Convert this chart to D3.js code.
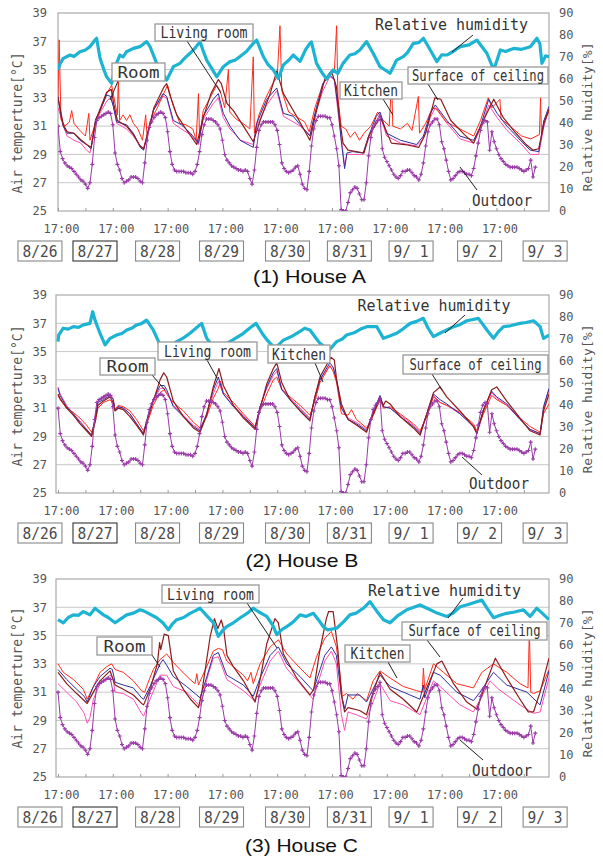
<!DOCTYPE html>
<html>
<head>
<meta charset="utf-8">
<script src="https://cdn.jsdelivr.net/npm/d3@7"></script>
<style>
  body { margin: 0; background: #fff; }
  svg { display: block; }
</style>
</head>
<body>
<script>
// ---- data: hours counted from 8/26 17:00, values in degC or % ----
const dayTicks = [0, 24, 48, 72, 96, 120, 144, 168, 192];
const dateLabels = ['8/26', '8/27', '8/28', '8/29', '8/30', '8/31', '9/ 1', '9/ 2', '9/ 3'];
const dateLabelHour = [-7.9, 16.2, 43.6, 71.6, 100.5, 127.6, 154.6, 184.6, 213.3];
const tempTicks = [25, 27, 29, 31, 33, 35, 37, 39];
const rhTicks = [0, 10, 20, 30, 40, 50, 60, 70, 80, 90];

// outdoor air temperature, hourly (same in all three houses)
const outdoorTemp = [
  31.0, 29.2, 28.7, 28.4, 28.2, 28.1, 28.0, 27.8, 27.6, 27.4, 27.2, 27.1, 26.9, 26.6, 27.0, 28.3, 30.2, 31.4, 31.6, 31.7, 31.8, 31.9, 32.0, 31.9,
  31.1, 29.1, 28.3, 27.9, 27.3, 27.0, 27.1, 27.2, 27.4, 27.4, 27.4, 27.3, 27.1, 27.0, 28.4, 30.0, 30.9, 31.3, 31.6, 31.8, 31.9, 32.0, 31.9, 31.6,
  30.6, 29.2, 28.3, 27.9, 27.8, 27.8, 27.8, 27.8, 27.7, 27.7, 27.7, 27.6, 27.8, 28.3, 29.2, 30.4, 31.1, 31.5, 31.5, 31.5, 31.4, 31.3, 31.1, 30.8,
  30.0, 29.0, 28.6, 28.4, 28.2, 28.1, 28.0, 27.9, 27.9, 27.8, 27.9, 27.8, 27.3, 26.9, 27.9, 29.5, 30.7, 31.1, 31.3, 31.3, 31.3, 31.3, 31.3, 31.1,
  30.7, 29.7, 28.4, 28.0, 27.8, 27.7, 27.8, 27.9, 28.1, 28.2, 27.6, 26.9, 26.6, 26.5, 27.8, 29.6, 30.8, 31.4, 31.7, 31.7, 31.7, 31.7, 31.6, 31.6,
  31.1, 30.3, 29.4, 28.2, 25.1, 25.0, 25.0, 25.6, 26.3, 26.5, 26.7, 26.6, 26.2, 25.8, 25.8, 27.0, 28.9, 30.2, 30.9, 31.2, 31.4, 31.7, 29.4, 28.8,
  28.5, 28.2, 27.9, 27.6, 27.4, 27.3, 27.5, 27.8, 27.8, 27.9, 27.9, 27.7, 27.5, 27.4, 27.2, 27.6, 28.4, 29.6, 30.6, 31.1, 31.3, 31.5, 31.5, 31.1,
  29.9, 29.4, 28.6, 27.8, 27.2, 27.3, 27.5, 27.7, 27.8, 27.8, 27.7, 27.6, 27.6, 27.5, 28.0, 28.9, 29.8, 30.7, 31.2, 31.4, 31.3, 29.3, 30.6, 29.9,
  29.4, 29.0, 28.7, 28.5, 28.3, 28.2, 28.1, 28.1, 28.1, 28.1, 28.0, 27.9, 27.8, 27.9, 28.0, 28.6, 27.4, 28.1
];

// House A  [hour, value]
const roomA = [[0,33.1],[1,32.0],[2.3,31.0],[4,30.5],[7,30.5],[9.6,30.0],[12.5,29.7],[14.5,29.4],[15.5,30.5],[16.5,31.5],[18.4,32.1],[21.3,33.2],[23,33.1],[24.2,32.4],[25.7,31.3],[30,31.1],[33,30.5],[36,29.5],[37.5,29.3],[39.6,30.7],[41.7,32.1],[46,33.3],[47.6,33.1],[50.5,31.4],[54,31.1],[58,30.5],[61.5,29.8],[63.6,31.7],[68,32.9],[70.2,33.3],[72.4,31.9],[75.3,31.0],[79.7,30.0],[85.5,29.5],[87,31.2],[91.4,32.9],[95.8,33.7],[98.7,31.9],[103,31.7],[106,31.1],[110.3,30.3],[112.5,31.9],[116,34.0],[119,34.6],[121,34.3],[122.6,32.4],[124,30.0],[125.5,28.0],[126.5,29.1],[129,29.2],[133.6,29.1],[136.5,30.5],[139.4,31.7],[141,32.0],[143.9,30.5],[150,30.0],[157,29.7],[160,30.3],[163,31.9],[165.2,32.5],[170.3,31.4],[176,30.3],[182,30.0],[185,31.0],[188.6,32.9],[192.3,31.9],[196.6,31.0],[202.5,30.0],[206.8,29.3],[210.5,29.2],[212.8,31.4],[215,32.4]];
const kitchenA = [[0,33.0],[0.5,37.1],[1.3,31.5],[3,31.0],[5,31.3],[6,32.1],[7,31.2],[9,30.8],[12,30.3],[13.5,31.9],[14,30.0],[15,30.5],[17,31.5],[19,32.3],[21.3,33.3],[23.5,33.9],[25,32.6],[26,31.8],[26.4,34.3],[27,31.4],[28.5,31.8],[30,31.4],[31.5,31.8],[33,31.2],[35,30.8],[37,30.0],[38.4,31.8],[39,30.3],[40.3,31.3],[43.2,32.2],[46,33.2],[48,33.9],[50.5,32.4],[53.4,31.2],[56,31.1],[59,30.8],[60.5,30.0],[61.5,33.3],[62,30.2],[63.6,32.1],[66.6,33.0],[69.5,33.9],[71,33.5],[73,32.3],[74.6,35.0],[75.2,32.0],[78,31.5],[81,31.2],[84,30.8],[85.5,35.9],[86,30.5],[88,31.8],[91,33.0],[94,34.0],[96,34.5],[97.2,38.1],[98,33.5],[101,32.0],[104,31.7],[108,31.3],[110,30.6],[112.5,32.3],[116,34.0],[119,34.8],[121,34.8],[122,38.1],[122.6,33.0],[124,31.0],[126,30.8],[128,30.2],[130,30.6],[132,30.0],[134,30.5],[137,31.0],[140,32.0],[142,31.5],[145,31.0],[146.1,34.1],[146.6,31.0],[150,30.8],[153,31.2],[155,30.7],[157.8,33.1],[158.3,30.5],[161,31.2],[164,32.3],[166,32.2],[170,31.3],[176,30.8],[182,30.3],[185,31.4],[188.4,33.0],[190,32.3],[193.5,32.9],[194,31.5],[198,31.0],[203,30.3],[207,30.1],[210.8,30.4],[211.3,33.0],[211.7,30.4],[212.8,31.4],[215,32.0]];
const ceilingA = [[0,32.3],[1,31.8],[2.3,31.0],[4,30.3],[7,30.0],[10,29.8],[12.5,29.3],[14,29.1],[15.5,30.3],[17,31.5],[19,32.1],[21.5,32.8],[23,33.0],[24.2,32.5],[25.7,31.2],[30,30.8],[33,30.3],[36,29.6],[37.5,29.4],[39.6,30.8],[42,32.2],[46,33.1],[47.6,33.0],[50.5,31.2],[54,30.8],[58,30.4],[61.5,29.7],[63.6,31.5],[68,32.6],[70.2,33.0],[72.4,31.6],[75.3,30.8],[80,30.0],[85.5,29.7],[87,31.0],[91.4,32.5],[95.8,33.5],[98.7,31.7],[103,31.3],[106,31.0],[110.3,30.4],[112.5,31.8],[116,33.5],[119,34.5],[121,34.3],[122.6,32.0],[124,30.2],[125.5,28.2],[126.5,29.0],[129,29.0],[133.6,29.0],[136.5,30.3],[139.4,31.4],[141,31.8],[143.9,30.3],[150,29.8],[157,29.6],[160,30.1],[163,31.6],[165.2,32.3],[170.3,31.2],[176,30.1],[182,29.8],[185,30.8],[188.6,32.5],[192.3,31.6],[196.6,30.7],[202.5,29.8],[206.8,29.0],[210.5,29.0],[212.8,31.0],[215,32.2]];
const livingA = [[0,33.0],[1,32.2],[2.3,31.1],[4,30.6],[7,30.5],[9.6,30.1],[12.5,29.7],[14.5,29.5],[16.5,31.4],[18.4,32.2],[21.3,33.4],[23.3,33.6],[24.5,32.5],[26,31.4],[30,31.0],[33,30.4],[36,29.6],[37.5,29.4],[40,30.9],[42,32.3],[46.5,33.8],[47.6,34.0],[49,33.2],[52,31.8],[56,30.8],[60.7,29.7],[63.6,31.6],[67,33.3],[70.2,34.3],[71.5,34.0],[74,32.6],[76.8,32.1],[81.2,31.0],[85.5,29.9],[88.5,31.4],[92.9,33.3],[95.8,34.9],[98.7,33.3],[104.5,31.7],[110.3,30.0],[113.2,32.1],[116.8,34.3],[119.7,34.9],[121.9,33.8],[123.4,31.4],[124.8,29.8],[127,29.3],[134,29.1],[136,30.3],[140.3,31.4],[141.5,31.5],[146,29.8],[152,29.7],[158,29.5],[161,30.5],[165,33.0],[167.6,32.9],[172,31.4],[178,30.4],[182,29.8],[185,31.0],[190.8,32.9],[195,31.6],[200,30.6],[205,29.7],[208,29.3],[210.5,29.4],[212.8,31.2],[215,32.2]];
const humidityA = [[0,64],[0.9,67],[2.3,69.4],[5.3,70.9],[7,70.2],[9.6,72.4],[12,73.2],[14,74.7],[16.2,77.7],[16.9,78.5],[18.4,69.4],[20,64.5],[21.3,61.0],[23.5,58.0],[25,65.6],[27.1,70.9],[28.5,70],[30,72.4],[33,73.9],[35.9,74.7],[38.8,77.0],[40.3,74.7],[43.2,67.1],[45.5,63],[47.6,59.5],[50.5,65.6],[53.4,67.1],[55.5,69.5],[57.8,71.7],[60,74],[62.2,77.0],[63.5,73],[65.1,68.6],[67.5,64.5],[69.5,61.0],[72.4,65.6],[75.3,67.9],[77.5,68.5],[79.7,70.2],[82.5,72.5],[85.5,76.2],[87,77.7],[89.9,70.2],[92,66.5],[94.3,64.1],[96.5,60.3],[98.7,66.4],[101,68.5],[103,70.9],[106,68],[108.5,73.5],[110.3,76.2],[111,76.8],[113.2,67.1],[115.5,63],[117.6,60.0],[120.5,64.1],[122.5,62.5],[124.8,67.1],[127.8,70.9],[130,71.5],[132.2,73.2],[135.1,77.0],[138,71.7],[141,65.6],[145.4,62.6],[148.3,68.6],[151.2,70.2],[153,72],[155.6,76.2],[158,76.5],[160,78.5],[163,73.2],[165.9,67.9],[168,71],[170.3,70.9],[173,72.5],[176.1,74.7],[180,75.5],[183.4,77.7],[187.8,71.7],[190.8,64.1],[193.7,73.2],[196,72.5],[199.5,73.9],[203,73.5],[206.8,74.7],[209.7,78.5],[211,76],[211.9,67.1],[213.5,70.5],[215,70.2]];

// House B
const roomB = [[0,32.4],[0.9,31.9],[3.8,31.1],[6.7,30.6],[9.6,30.0],[12.5,29.5],[14.7,29.1],[16.2,30.2],[17.5,31.4],[19.9,31.6],[22.8,31.9],[24.2,31.6],[25,30.8],[26.4,31.1],[28.6,31.0],[31.5,30.6],[34.4,29.9],[37.4,29.2],[39.6,30.6],[41.7,31.6],[44.7,32.6],[46.5,32.6],[47.6,32.3],[50.5,31.1],[54.9,30.4],[59.3,29.7],[62.2,29.4],[65.1,30.6],[68,32.3],[70.2,33.2],[72.4,32.0],[76.8,31.1],[81.2,30.4],[86.3,29.6],[88.5,31.1],[91.4,32.5],[94.3,33.5],[95.8,33.8],[98,32.3],[101.6,31.6],[106,30.9],[110.3,30.2],[112.5,31.8],[114.7,33.0],[119,34.2],[120.5,33.9],[122,33.0],[124.1,31.0],[127,30.2],[130.7,29.9],[135.1,29.4],[137.3,30.4],[141,31.9],[142.5,31.1],[145.4,31.0],[149.8,30.4],[155.6,29.7],[158.6,29.2],[161.5,30.6],[164.4,32.0],[167.3,31.6],[170.2,31.3],[176,30.6],[181.9,29.7],[183.4,29.2],[186.3,30.9],[189.9,32.2],[192.1,31.8],[196.5,31.3],[202.3,30.2],[206.7,29.5],[211.1,29.2],[212.6,31.1],[215,32.4]];
const livingB = [[0,32.0],[0.9,31.7],[3.8,31.0],[6.7,30.5],[9.6,29.9],[12.5,29.4],[14.7,29.0],[16.2,30.0],[17.5,31.2],[19.9,31.5],[22.8,31.8],[24.2,31.4],[25,30.8],[26.4,31.0],[28.6,30.9],[31.5,30.4],[34.4,29.8],[37.4,29.1],[39.6,30.4],[41.7,31.5],[44.7,33.0],[46.3,33.5],[47.6,33.2],[50.5,31.5],[54.9,30.4],[59.3,29.6],[62.2,29.3],[65.1,30.5],[68,32.5],[70.5,33.8],[72.4,32.6],[76.8,31.2],[81.2,30.3],[86.3,29.5],[88.5,31.0],[91.4,32.7],[94.3,33.8],[95.8,34.2],[98,32.8],[101.6,31.6],[106,30.8],[110.3,30.1],[112.5,31.8],[114.7,33.2],[119.5,34.6],[121,34.4],[122,33.0],[124.1,31.3],[127,30.2],[130.7,29.8],[135.1,29.3],[137.3,30.3],[141,31.7],[142.5,31.2],[143.5,31.5],[145.4,31.3],[149.8,30.4],[155.6,29.6],[158.6,29.1],[161.5,30.6],[164.4,32.1],[167.3,32.5],[170.2,31.8],[176,30.8],[181.9,29.7],[183.4,29.2],[186.3,30.8],[189.9,32.3],[192.1,32.5],[196.5,31.5],[202.3,30.3],[206.7,29.4],[211.1,29.1],[212.6,30.8],[215,32.0]];
const kitchenB = [[0,31.9],[0.9,31.6],[3.8,31.0],[6.7,30.7],[9.6,30.3],[12.5,29.8],[14.7,29.3],[16.2,30.0],[17.5,31.0],[19.9,31.4],[22.8,31.6],[24.2,31.3],[25,30.9],[26.4,31.2],[28.6,31.1],[31.5,30.8],[34.4,30.2],[37.4,29.4],[39.6,30.2],[41.7,31.2],[44.7,32.1],[46.5,32.3],[47.6,32.0],[50.5,31.4],[54.9,30.8],[59.3,30.0],[62.2,29.6],[65.1,30.4],[68,31.7],[70.2,32.4],[71.2,32.9],[72.4,32.1],[76.8,31.4],[81.2,30.6],[86.3,29.7],[88.5,30.8],[91.4,32.0],[94.3,33.0],[95.8,33.2],[98,32.3],[101.6,31.8],[106,31.2],[110.3,30.5],[112.5,31.5],[114.7,32.8],[119,34.0],[120.5,33.6],[122,32.8],[124.1,30.6],[127,30.5],[128.5,30.9],[130.7,30.2],[135.1,29.6],[137.3,30.2],[141,31.6],[142.5,31.0],[145.4,31.1],[149.8,30.6],[155.6,29.9],[158.6,29.4],[161.5,30.4],[164.4,31.8],[167.3,31.4],[170.2,31.2],[176,30.7],[181.9,29.9],[183.4,29.4],[186.3,30.6],[189.9,31.9],[192.1,31.6],[196.5,31.2],[202.3,30.3],[206.7,29.7],[211.1,29.3],[212.6,30.6],[215,31.3]];
const ceilingB = [[0,32.5],[0.9,32.0],[3.8,31.2],[6.7,30.6],[9.6,30.1],[12.5,29.5],[14.7,29.0],[16.2,30.3],[17.5,31.5],[19.9,31.7],[22.8,32.0],[24.2,31.7],[25,30.8],[26.4,31.1],[28.6,31.0],[31.5,30.6],[34.4,29.9],[37.4,29.2],[39.6,30.5],[41.7,31.5],[44.7,32.4],[46.5,32.4],[47.6,32.1],[50.5,31.2],[54.9,30.5],[59.3,29.8],[62.2,29.5],[65.1,30.6],[68,32.0],[70.2,32.9],[72.4,32.0],[76.8,31.2],[81.2,30.5],[86.3,29.7],[88.5,31.1],[91.4,32.4],[94.3,33.3],[95.8,33.6],[98,32.4],[101.6,31.7],[106,31.0],[110.3,30.3],[112.5,31.8],[114.7,33.0],[119,34.0],[120.5,33.8],[122,32.9],[124.1,31.0],[127,30.3],[130.7,30.0],[135.1,29.5],[137.3,30.4],[141,31.8],[142.5,31.1],[145.4,31.0],[149.8,30.5],[155.6,29.8],[158.6,29.3],[161.5,30.6],[164.4,31.9],[167.3,31.4],[170.2,31.2],[176,30.6],[181.9,29.8],[183.4,29.3],[186.3,30.9],[189.9,32.1],[192.1,31.7],[196.5,31.2],[202.3,30.2],[206.7,29.5],[211.1,29.2],[212.6,31.0],[215,32.3]];
const humidityB = [[0,68.8],[0.3,71.8],[2.3,74.9],[4.5,74.5],[6.7,75.6],[9,75.3],[11.1,76.4],[14,77.1],[15.2,82.4],[16.2,78.6],[18.4,72.6],[20.6,67.3],[22.8,70.3],[25.7,71.8],[28,72.5],[30.1,74.1],[32.5,75],[34.4,76.4],[36.5,77],[38.8,78.6],[41.7,74.1],[44.7,67.3],[47.6,65.8],[50,67.5],[52,68.8],[55,70.5],[57.8,72.6],[60.5,75],[62.9,77.1],[65.1,70.3],[68,66.5],[70.9,65.0],[73,67],[75.3,68.8],[78,70.5],[81.2,72.6],[84,75],[86.7,77.1],[89.9,71.8],[92,69],[94.3,66.5],[96,66.8],[98.7,69.5],[102,71],[106,73.5],[108,74.9],[110.3,74.1],[112.5,71],[114.7,68.0],[117.6,65.8],[119,65.2],[122,68.8],[124.5,70],[126.4,71.8],[130,73],[132.5,74.5],[135.2,75.6],[139.6,75.6],[142.5,70.3],[145.5,71.5],[148.3,72.6],[151,74.5],[154.2,77.1],[157,78],[160,79.4],[162,75],[164.4,71.1],[167,72.5],[170.2,74.1],[173,75.5],[176,76.5],[179,78.3],[184.1,79.4],[187.8,74.1],[190.7,70.3],[193,73.5],[195.1,75.6],[198,76],[202.3,77.1],[205,77.5],[208.2,78.3],[211.1,75.6],[212.6,70.3],[215,71.8]];

// House C
const kitchenC = [[0,33.0],[2.3,32.4],[6.7,31.9],[11.1,31.2],[12.8,30.5],[15.5,31.4],[18.4,32.4],[21.3,32.8],[23.5,33.0],[25,32.6],[28.6,32.4],[33,31.8],[36.6,31.1],[38,31.0],[38.8,31.4],[41.7,32.6],[44.7,33.3],[47.6,33.7],[50.5,33.1],[53.4,32.6],[57.8,31.9],[60,31.6],[60.8,32.3],[61.5,31.5],[65.1,32.8],[68,33.9],[70.2,34.1],[72,34.0],[73.9,33.2],[78.2,32.6],[81.2,32.2],[83,31.8],[84.5,32.4],[85.5,31.6],[88.5,33.0],[92.9,34.2],[96.5,34.7],[100.2,33.7],[106,32.7],[110.3,32.0],[113.2,33.5],[116.8,34.8],[119.7,35.3],[121.9,34.2],[123.4,32.4],[124.5,30.7],[126.3,30.9],[129.2,30.5],[131,30.9],[135.1,30.4],[138,31.8],[141,32.5],[145.4,32.0],[151.2,31.4],[157.1,31.1],[159.5,31.0],[160,32.7],[160.6,31.2],[164.4,33.0],[168.8,32.4],[174.6,31.6],[181.9,31.3],[185.6,32.4],[190.7,33.0],[196.5,32.4],[202.3,31.6],[205.8,31.3],[206.4,35.4],[207,31.0],[208.2,30.9],[211.1,31.1],[215,32.6]];
const roomC = [[0,32.6],[3.8,31.9],[8.2,31.2],[11.5,30.7],[12.8,30.3],[15.5,31.4],[18.4,32.1],[22.8,32.7],[23.8,32.6],[25,31.7],[28.6,31.5],[33,31.3],[36.6,30.6],[37.5,30.5],[40.3,31.4],[44.7,33.0],[46,33.3],[47.6,32.9],[50.5,32.1],[56.3,31.4],[62.2,30.6],[65,32.0],[68,33.6],[70.2,33.8],[73.9,32.2],[81.2,31.5],[85.5,30.7],[88.5,32.0],[92.9,33.6],[96.5,34.2],[100.2,33.0],[106,32.1],[111.7,31.1],[116.8,33.6],[119.7,34.2],[121.9,33.6],[124.1,30.8],[125.6,29.8],[127,30.8],[132.1,30.8],[135.1,30.3],[141,32.2],[145.4,31.4],[151.2,31.0],[158.5,30.5],[160,31.5],[160.6,30.6],[164.4,32.4],[167.3,32.2],[174.6,31.0],[181.9,30.4],[184.8,31.0],[190.7,32.4],[196.5,31.5],[205.3,31.0],[211.1,30.1],[215,32.5]];
const livingC = [[0,32.4],[3.8,31.6],[8.2,30.9],[12.8,30.2],[15.5,31.0],[18.4,31.8],[22.8,32.5],[25,31.5],[28.6,31.2],[33,30.8],[36.6,30.2],[37.5,30.1],[40.3,31.2],[43.5,33.0],[44.5,34.5],[45,34.0],[46.5,35.1],[48.3,35.0],[50.5,32.5],[54.9,31.2],[58,30.5],[61.5,29.9],[63,31.0],[66.6,34.9],[68.5,36.2],[70,35.5],[71.5,36.1],[72.5,35.5],[74,33.6],[76.8,32.8],[81.2,31.8],[86.3,30.3],[88,31.5],[91.4,34.4],[95,36.2],[96.5,35.9],[98.7,33.7],[104.5,32.0],[110.3,30.8],[112,31.2],[114.6,33.9],[117.5,36.2],[118.5,36.7],[120.5,36.7],[122.6,33.9],[124.1,30.8],[125.5,29.6],[127,29.9],[132.1,29.7],[135.1,29.4],[137,30.5],[141,32.4],[145.4,31.2],[151.2,30.5],[157.1,29.6],[161.5,31.3],[165.9,33.0],[168.1,33.2],[173.2,31.6],[179,30.3],[183.4,29.8],[187.8,31.8],[191.5,33.4],[196.5,32.0],[202.3,30.5],[205.9,29.6],[208.2,29.6],[211.1,31.0],[215,33.4]];
const ceilingC = [[0,31.6],[3.8,31.0],[8.2,30.3],[11.5,29.5],[12.8,28.8],[14,29.2],[15.5,30.5],[18.4,31.6],[22.8,32.2],[24,32.0],[25,31.0],[28.6,30.9],[33,30.5],[36.6,29.5],[37.5,29.3],[40.3,30.5],[44.7,32.2],[47.6,32.2],[50.5,31.4],[56.3,31.0],[62.2,30.0],[65,31.8],[68,33.4],[70.2,33.5],[73.9,31.9],[81.2,31.1],[86,30.4],[88.5,31.5],[92.9,33.2],[96.5,33.9],[100,32.7],[106,31.6],[111.7,30.5],[116.8,33.2],[119.7,33.9],[121.9,33.0],[124.1,29.4],[125.5,28.3],[127,29.6],[130.7,29.4],[135.1,29.1],[141,31.6],[145.4,30.4],[151.2,30.1],[158.5,29.4],[164.4,31.8],[167.3,31.4],[176,30.1],[181.9,29.6],[185.6,30.7],[189.2,31.8],[193,31.2],[202.3,30.1],[208.2,29.5],[211.1,29.6],[215,32.0]];
const humidityC = [[0,71.5],[2.3,70.1],[4.5,72.5],[6.7,73.7],[9,73.5],[11.1,75.2],[14,73.7],[16.2,76.7],[17,76],[19.9,73.7],[22,72.5],[25,70.1],[27,71.5],[30.1,73.7],[33,74.5],[35.9,76.0],[37.5,75.5],[39.6,74.4],[43.2,72.4],[46,70],[48.3,66.9],[50,69.5],[52,71.5],[55,72.5],[57.8,74.4],[60,75.5],[62.2,76.7],[65,73.5],[68,70.1],[70.2,63.9],[72,66.5],[74,68.5],[76.8,70.1],[80,72.5],[83,74.5],[85.5,76.7],[88,75],[91.4,73.0],[94,69],[95.8,64.7],[98,67],[100.1,68.3],[103,70.5],[106,73.7],[108.5,73],[111.8,74.4],[114,71.5],[116.1,68.4],[118,66.9],[122,67.6],[125,70.5],[127.8,73.7],[130.5,74.5],[133.7,76.7],[136.6,79.7],[139.5,75.5],[142.5,71.5],[145.4,70.1],[149,73.5],[152.7,76.0],[155.5,77],[158.5,78.2],[163,76.0],[166,74.5],[170.3,73.0],[173,74.5],[176.1,77.4],[180,78.5],[183,79.5],[185.6,80.4],[188,76.5],[190.7,72.4],[193.5,73.5],[196.5,74.4],[200,75],[203.8,76.0],[206.7,73.0],[209.6,76.7],[212,74.5],[215,71.5]];

// ---- layout ----
const W = 603, H = 859;
const plotRight = 549, plotH = 198;
const mono = "'DejaVu Sans Mono', monospace";
const colors = { rh: '#1cb4d2', out: '#9a3aa8', kitchen: '#ff2d1e', room: '#2b2f9e', ceiling: '#ff4fb0', living: '#8c1c1c' };
const labelWidth = { 'Living room': 87, 'Room': 42, 'Kitchen': 54, 'Surface of ceiling': 132, 'Relative humidity': 153, 'Outdoor': 60 };
// the long label is set smaller and stretched upright so it stays clear of the right axis
const labelSize = { 'Surface of ceiling': 12.5 };
const labelStretch = { 'Surface of ceiling': 1.25 };

// callouts: box [x, yOffset, w, h] relative to panel top, leader from -> to
const calloutsA = [
  { text: 'Relative humidity', at: [451.5, 11], lead: [[473, 22], [452, 39]] },
  { text: 'Living room', box: [155, 11, 98, 17], lead: [[187, 28], [221, 80]] },
  { text: 'Room', box: [112, 50, 53, 18], lead: [[118, 68], [110, 87]] },
  { text: 'Kitchen', box: [340, 69, 62, 17], lead: [[383, 86], [393, 102]] },
  { text: 'Surface of ceiling', box: [408, 54, 140, 17], lead: [[428, 71], [438, 87]] },
  { text: 'Outdoor', at: [502, 187], lead: [[477, 177], [460, 154]] }
];
const calloutsB = [
  { text: 'Relative humidity', at: [434, 10], lead: [[465, 20], [445, 38]] },
  { text: 'Room', box: [100, 63, 55, 17], lead: [[152, 80], [165, 95]] },
  { text: 'Living room', box: [158, 47, 99, 18], lead: [[207, 65], [217, 83]] },
  { text: 'Kitchen', box: [268, 50, 62, 18], lead: [[315, 68], [323, 87]] },
  { text: 'Surface of ceiling', box: [403, 60, 145, 19], lead: [[432, 79], [442, 95]] },
  { text: 'Outdoor', at: [499, 188], lead: [[482, 180], [462, 162]] }
];
const calloutsC = [
  { text: 'Relative humidity', at: [444.5, 11], lead: [[463, 19], [448, 39]] },
  { text: 'Living room', box: [162, 6, 97, 18], lead: [[247, 24], [277, 69]] },
  { text: 'Room', box: [97, 58, 55, 18], lead: [[152, 76], [160, 88]] },
  { text: 'Kitchen', box: [345, 66, 65, 17], lead: [[388, 83], [397, 99]] },
  { text: 'Surface of ceiling', box: [402, 43, 145, 18], lead: [[427, 61], [440, 78]] },
  { text: 'Outdoor', at: [502, 191], lead: [[483, 181], [460, 161]] }
];

const panels = [
  { top: 13, left: 58, title: '(1) House A', titleX: 309.5, titleY: 283, yTitle: 110,
    lines: [[ceilingA, 'ceiling'], [kitchenA, 'kitchen'], [roomA, 'room'], [livingA, 'living']], rh: humidityA, callouts: calloutsA },
  { top: 295, left: 56, title: '(2) House B', titleX: 302, titleY: 567, yTitle: 101,
    lines: [[ceilingB, 'ceiling'], [kitchenB, 'kitchen'], [roomB, 'room'], [livingB, 'living']], rh: humidityB, callouts: calloutsB },
  { top: 579, left: 56, title: '(3) House C', titleX: 301.5, titleY: 852, yTitle: 99,
    lines: [[ceilingC, 'ceiling'], [kitchenC, 'kitchen'], [roomC, 'room'], [livingC, 'living']], rh: humidityC, callouts: calloutsC }
];

const x = d3.scaleLinear().domain([0, 215]).range([58, plotRight]);

const svg = d3.select('body').append('svg')
  .attr('width', W).attr('height', H)
  .style('font-family', mono);

function fit(sel, w) {
  sel.attr('textLength', w).attr('lengthAdjust', 'spacingAndGlyphs');
}

panels.forEach((p, pi) => {
  const bottom = p.top + plotH;
  const y = d3.scaleLinear().domain([25, 39]).range([bottom, p.top]);
  const rh = d3.scaleLinear().domain([0, 90]).range([bottom, p.top]);
  const g = svg.append('g');

  // clip
  const clipId = 'clip' + pi;
  svg.append('clipPath').attr('id', clipId)
    .append('rect').attr('x', p.left).attr('y', p.top)
    .attr('width', plotRight - p.left).attr('height', plotH);

  // gridlines
  g.selectAll('.grid').data(tempTicks.slice(1, -1)).enter().append('line')
    .attr('x1', p.left).attr('x2', plotRight)
    .attr('y1', d => y(d)).attr('y2', d => y(d))
    .attr('stroke', '#c8c8c8').attr('stroke-width', 1);

  // frame
  g.append('rect').attr('x', p.left).attr('y', p.top)
    .attr('width', plotRight - p.left).attr('height', plotH)
    .attr('fill', 'none').attr('stroke', '#aaa').attr('stroke-width', 1.2);

  // minor ticks every 12 h
  const minor = g.append('g').attr('transform', `translate(0,${bottom})`)
    .call(d3.axisBottom(x).tickValues(d3.range(0, 215, 12)).tickSize(-3).tickFormat(''));
  minor.select('.domain').remove();
  minor.selectAll('line').attr('stroke', '#999');

  // series
  const plot = g.append('g').attr('clip-path', `url(#${clipId})`);
  const line = d3.line().x(d => x(d[0])).y(d => y(d[1]));
  p.lines.forEach(([data, key]) => {
    plot.append('path').datum(data)
      .attr('d', line).attr('fill', 'none')
      .attr('stroke', colors[key]).attr('stroke-width', key === 'living' ? 1.2 : 1)
      .attr('stroke-linejoin', 'round');
  });

  const outdoor = outdoorTemp.map((v, i) => [i, v]);
  plot.append('path').datum(outdoor)
    .attr('d', line).attr('fill', 'none')
    .attr('stroke', colors.out).attr('stroke-width', 1);
  plot.selectAll('.mk').data(outdoor).enter().append('path')
    .attr('transform', d => `translate(${x(d[0])},${y(d[1])})`)
    .attr('d', 'M-2,0H2M0,-2V2')
    .attr('stroke', colors.out).attr('stroke-width', 1.1);

  const rhLine = d3.line().x(d => x(d[0])).y(d => rh(d[1]));
  plot.append('path').datum(p.rh)
    .attr('d', rhLine).attr('fill', 'none')
    .attr('stroke', colors.rh).attr('stroke-width', 3.2)
    .attr('stroke-linejoin', 'round');

  // axes
  const ax = g.append('g').attr('transform', `translate(${p.left},0)`)
    .call(d3.axisLeft(y).tickValues(tempTicks).tickSize(0).tickPadding(p.left - 47));
  const ar = g.append('g').attr('transform', `translate(${plotRight},0)`)
    .call(d3.axisRight(rh).tickValues(rhTicks).tickSize(0).tickPadding(10));
  const ab = g.append('g').attr('transform', `translate(0,${bottom})`)
    .call(d3.axisBottom(x).tickValues(dayTicks).tickFormat(() => '17:00').tickSize(0).tickPadding(13));
  [ax, ar, ab].forEach(a => {
    a.select('.domain').remove();
    a.selectAll('text').attr('font-family', mono).attr('font-size', 12).attr('fill', '#555');
  });
  ab.selectAll('text').attr('dx', 3);

  // axis titles
  g.append('text')
    .attr('transform', `translate(22,${p.top + p.yTitle}) rotate(-90)`)
    .attr('text-anchor', 'middle').attr('font-size', 13.5).attr('fill', '#555')
    .text('Air temperture[°C]').call(fit, 141);
  g.append('text')
    .attr('transform', `translate(592,${p.top + 104}) rotate(-90)`)
    .attr('text-anchor', 'middle').attr('font-size', 13).attr('fill', '#555')
    .text('Relative huidity[%]').call(fit, 149);

  // date boxes
  const db = g.selectAll('.date').data(dateLabels).enter().append('g')
    .attr('transform', (d, i) => `translate(${x(dateLabelHour[i])},${bottom + 30})`);
  db.append('rect').attr('x', -22).attr('y', 0).attr('width', 44).attr('height', 20)
    .attr('fill', '#fff')
    .attr('stroke', (d, i) => i === 1 ? '#333' : '#888').attr('stroke-width', 1.1);
  db.append('text').attr('x', 0).attr('y', 15.5).attr('text-anchor', 'middle')
    .attr('font-size', 16.5).attr('fill', '#4a4a4a')
    .style('white-space', 'pre')
    .text(d => d).call(fit, 35);

  // callouts
  p.callouts.forEach(c => {
    g.append('line')
      .attr('x1', c.lead[0][0]).attr('y1', p.top + c.lead[0][1])
      .attr('x2', c.lead[1][0]).attr('y2', p.top + c.lead[1][1])
      .attr('stroke', '#222').attr('stroke-width', 1);
    let cx, cy;
    if (c.box) {
      g.append('rect').attr('x', c.box[0]).attr('y', p.top + c.box[1])
        .attr('width', c.box[2]).attr('height', c.box[3])
        .attr('fill', '#fff').attr('stroke', '#999').attr('stroke-width', 1.3);
      cx = c.box[0] + c.box[2] / 2;
      cy = p.top + c.box[1] + c.box[3] / 2;
    } else {
      cx = c.at[0];
      cy = p.top + c.at[1];
    }
    const fs = labelSize[c.text] || 16;
    const sy = labelStretch[c.text] || 1;
    g.append('text')
      .attr('transform', `translate(${cx},${cy}) scale(1,${sy})`)
      .attr('x', 0).attr('y', fs * 0.35)
      .attr('text-anchor', 'middle').attr('font-size', fs).attr('fill', '#333')
      .text(c.text).call(fit, labelWidth[c.text]);
  });

  // panel title
  g.append('text').attr('x', p.titleX).attr('y', p.titleY)
    .attr('text-anchor', 'middle')
    .attr('font-family', "'Liberation Sans', Arial, sans-serif")
    .attr('font-size', 18.5).attr('fill', '#111')
    .text(p.title).call(fit, 113);
});
</script>
</body>
</html>
